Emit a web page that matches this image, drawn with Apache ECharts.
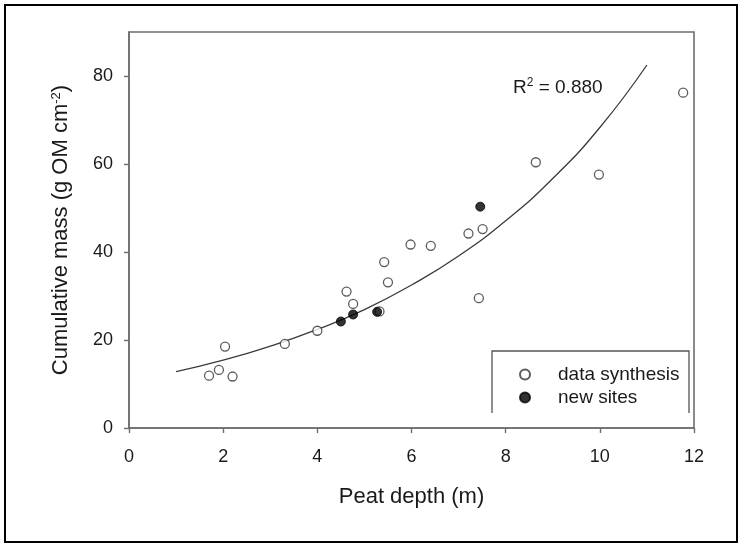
<!DOCTYPE html>
<html>
<head>
<meta charset="utf-8">
<script src="https://cdn.jsdelivr.net/npm/echarts@6/dist/echarts.min.js"></script>
<style>
html,body{margin:0;padding:0;background:#fff;}
#chart{width:741px;height:544px;}
</style>
</head>
<body>
<div id="chart"></div>
<script>
// Data
const synthX = [1.70, 1.91, 2.04, 2.20, 3.31, 4.00, 4.62, 4.76, 5.32, 5.42, 5.50, 5.98, 6.41, 7.21, 7.43, 7.51, 8.64, 9.98, 11.77];
const synthY = [11.9, 13.2, 18.5, 11.7, 19.1, 22.1, 31.0, 28.2, 26.5, 37.7, 33.1, 41.7, 41.4, 44.2, 29.5, 45.2, 60.4, 57.6, 76.2];
const newX = [4.50, 4.76, 5.27, 7.46];
const newY = [24.2, 25.8, 26.4, 50.3];
const fitX = [1, 2, 3, 4, 5, 6, 7, 8, 9, 10, 11];
const fitY = [12.8, 15.4, 18.6, 22.4, 26.9, 32.5, 39.1, 47.1, 56.7, 68.3, 82.5];
const xTicks = [0, 2, 4, 6, 8, 10, 12];
const yTicks = [0, 20, 40, 60, 80];
const seriesNames = ['data synthesis', 'new sites'];
const r2Text = '0.880';

const FONT = "'Liberation Sans', Arial, sans-serif";
const TXT = '#1a1a1a';
const AX = '#6e6e6e';

const zip = (xs, ys) => xs.map((x, i) => [x, ys[i]]);

const chart = echarts.init(document.getElementById('chart'), null, {renderer: 'canvas'});
chart.setOption({
  backgroundColor: '#fff',
  animation: false,
  grid: {left: 129, top: 32, right: 47, bottom: 116, show: true, borderColor: AX, borderWidth: 1.6, backgroundColor: 'transparent'},
  xAxis: {
    type: 'value', min: 0, max: 12, interval: 2,
    name: 'Peat depth (m)', nameLocation: 'middle', nameGap: 58,
    nameTextStyle: {fontFamily: FONT, fontSize: 22, color: TXT},
    axisLine: {show: true, lineStyle: {color: AX, width: 1.6}},
    axisTick: {show: true, inside: false, length: 5, lineStyle: {color: AX, width: 1.4}, customValues: xTicks},
    axisLabel: {fontFamily: FONT, fontSize: 18, color: TXT, margin: 20, customValues: xTicks},
    splitLine: {show: false}
  },
  yAxis: {
    type: 'value', min: 0, max: 90,
    name: 'Cumulative mass (g OM cm{sup|-2})', nameLocation: 'middle', nameGap: 57, nameRotate: 90,
    nameTextStyle: {fontFamily: FONT, fontSize: 22, color: TXT,
      rich: {sup: {fontFamily: FONT, fontSize: 13, lineHeight: 13, verticalAlign: 'top', color: TXT}}},
    axisLine: {show: true, lineStyle: {color: AX, width: 1.6}},
    axisTick: {show: true, inside: false, length: 5, lineStyle: {color: AX, width: 1.4}, customValues: yTicks},
    axisLabel: {fontFamily: FONT, fontSize: 18, color: TXT, margin: 16, customValues: yTicks},
    splitLine: {show: false}
  },
  legend: {
    data: seriesNames, orient: 'vertical', left: 519, top: 365, padding: 0,
    itemWidth: 10, itemHeight: 10, itemGap: 4, selectedMode: false,
    textStyle: {fontFamily: FONT, fontSize: 19, color: TXT, padding: [0, 0, 0, 23]}
  },
  graphic: [
    {type: 'rect', shape: {x: 5, y: 5, width: 732, height: 537}, style: {fill: 'none', stroke: '#000', lineWidth: 2}, silent: true, z: 10},
    {type: 'polyline', shape: {points: [[492, 413], [492, 351], [689, 351], [689, 413]]}, style: {fill: 'none', stroke: '#555', lineWidth: 1.3}, silent: true},
    {type: 'text', left: 513, top: 77, style: {
      text: '{a|R}{sup|2}{a| = ' + r2Text + '}',
      rich: {a: {fontFamily: FONT, fontSize: 19, lineHeight: 22, fill: TXT},
             sup: {fontFamily: FONT, fontSize: 12, lineHeight: 12, verticalAlign: 'top', fill: TXT}}
    }}
  ],
  series: [
    {type: 'line', name: 'fit', data: zip(fitX, fitY), smooth: true, showSymbol: false, symbol: 'none',
     lineStyle: {color: '#3a3a3a', width: 1.3}, z: 2, silent: true},
    {type: 'scatter', name: seriesNames[0], data: zip(synthX, synthY), symbol: 'circle', symbolSize: 9,
     itemStyle: {color: '#fff', borderColor: '#333', borderWidth: 1.3}, z: 3},
    {type: 'scatter', name: seriesNames[1], data: zip(newX, newY), symbol: 'circle', symbolSize: 9,
     itemStyle: {color: '#000', borderColor: '#000', borderWidth: 1}, z: 4}
  ]
});
</script>
</body>
</html>
